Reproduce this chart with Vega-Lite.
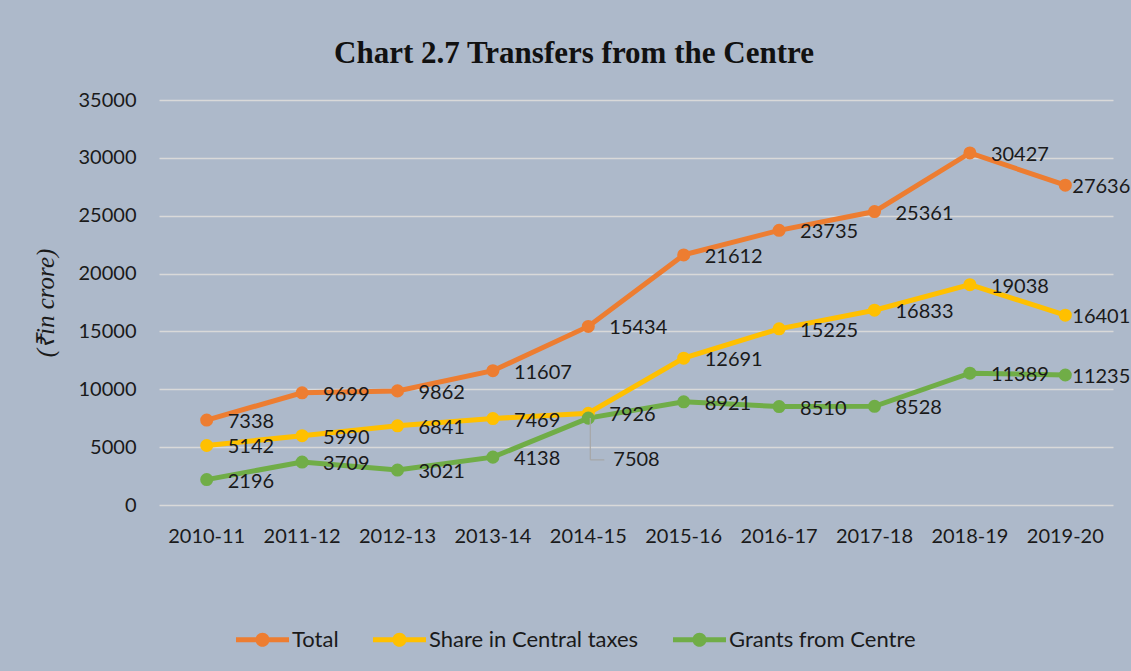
{
  "$schema": "https://vega.github.io/schema/vega-lite/v6.json",
  "width": 954,
  "height": 405,
  "autosize": {"type": "none"},
  "padding": {"left": 159, "top": 100, "right": 18, "bottom": 166},
  "background": "#ADB9CA",
  "title": {
    "text": "Chart 2.7 Transfers from the Centre",
    "font": "Liberation Serif",
    "fontSize": 31,
    "fontWeight": "bold",
    "color": "#111111",
    "anchor": "middle",
    "baseline": "alphabetic",
    "offset": -4,
    "dx": -62
  },
  "config": {
    "view": {"stroke": null},
    "axis": {"labelFont": "Lato", "labelFontSize": 20, "labelColor": "#1a1a1a"}
  },
  "data": {
    "values": [
      {"year": "2010-11", "series": "Total", "value": 7338},
      {"year": "2011-12", "series": "Total", "value": 9699},
      {"year": "2012-13", "series": "Total", "value": 9862},
      {"year": "2013-14", "series": "Total", "value": 11607},
      {"year": "2014-15", "series": "Total", "value": 15434},
      {"year": "2015-16", "series": "Total", "value": 21612},
      {"year": "2016-17", "series": "Total", "value": 23735},
      {"year": "2017-18", "series": "Total", "value": 25361},
      {"year": "2018-19", "series": "Total", "value": 30427},
      {"year": "2019-20", "series": "Total", "value": 27636},
      {"year": "2010-11", "series": "Share in Central taxes", "value": 5142},
      {"year": "2011-12", "series": "Share in Central taxes", "value": 5990},
      {"year": "2012-13", "series": "Share in Central taxes", "value": 6841},
      {"year": "2013-14", "series": "Share in Central taxes", "value": 7469},
      {"year": "2014-15", "series": "Share in Central taxes", "value": 7926},
      {"year": "2015-16", "series": "Share in Central taxes", "value": 12691},
      {"year": "2016-17", "series": "Share in Central taxes", "value": 15225},
      {"year": "2017-18", "series": "Share in Central taxes", "value": 16833},
      {"year": "2018-19", "series": "Share in Central taxes", "value": 19038},
      {"year": "2019-20", "series": "Share in Central taxes", "value": 16401},
      {"year": "2010-11", "series": "Grants from Centre", "value": 2196},
      {"year": "2011-12", "series": "Grants from Centre", "value": 3709},
      {"year": "2012-13", "series": "Grants from Centre", "value": 3021},
      {"year": "2013-14", "series": "Grants from Centre", "value": 4138},
      {"year": "2014-15", "series": "Grants from Centre", "value": 7508},
      {"year": "2015-16", "series": "Grants from Centre", "value": 8921},
      {"year": "2016-17", "series": "Grants from Centre", "value": 8510},
      {"year": "2017-18", "series": "Grants from Centre", "value": 8528},
      {"year": "2018-19", "series": "Grants from Centre", "value": 11389},
      {"year": "2019-20", "series": "Grants from Centre", "value": 11235}
    ]
  },
  "encoding": {
    "x": {
      "field": "year",
      "type": "ordinal",
      "scale": {"type": "band", "paddingInner": 0, "paddingOuter": 0},
      "axis": {"title": null, "labelAngle": 0, "ticks": false, "domain": false, "labelPadding": 21, "grid": false}
    },
    "y": {
      "field": "value",
      "type": "quantitative",
      "scale": {"domain": [0, 35000], "nice": false},
      "axis": {
        "values": [0, 5000, 10000, 15000, 20000, 25000, 30000, 35000],
        "format": "d",
        "title": "(₹in crore)",
        "titleFont": "Liberation Serif",
        "titleFontStyle": "italic",
        "titleFontWeight": "normal",
        "titleFontSize": 25,
        "titleColor": "#1a1a1a",
        "titlePadding": 20,
        "domain": false,
        "ticks": false,
        "labelPadding": 23,
        "grid": true,
        "gridColor": "#D9D9D9",
        "gridWidth": 1.5
      }
    }
  },
  "layer": [
    {
      "mark": {"type": "line", "strokeWidth": 5},
      "encoding": {
        "color": {
          "field": "series",
          "type": "nominal",
          "sort": ["Total", "Share in Central taxes", "Grants from Centre"],
          "scale": {"domain": ["Total", "Share in Central taxes", "Grants from Centre"], "range": ["#ED7D31", "#FFC000", "#70AD47"]},
          "legend": {
            "orient": "none",
            "direction": "horizontal",
            "legendX": 77,
            "legendY": 513,
            "title": null,
            "symbolType": "M-1,-0.095L1,-0.095L1,0.095L-1,0.095Z M0.265,0A0.265,0.265 0 1,1 -0.265,0A0.265,0.265 0 1,1 0.265,0Z",
            "symbolSize": 2809,
            "symbolStrokeWidth": 0,
            "labelFont": "Lato",
            "labelFontSize": 22,
            "labelColor": "#1a1a1a",
            "labelLimit": 0,
            "labelOffset": 3,
            "columnPadding": 34,
            "encode": {"symbols": {"update": {"fill": {"scale": "color", "field": "value"}, "opacity": {"value": 1}, "strokeWidth": {"value": 0}}}}
          }
        }
      }
    },
    {
      "mark": {"type": "point", "filled": true, "size": 170, "opacity": 1, "shape": "circle"},
      "encoding": {
        "color": {"field": "series", "type": "nominal", "legend": null}
      }
    },
    {
      "transform": [{"filter": "!(datum.series == 'Grants from Centre' && datum.year == '2014-15') && datum.year != '2019-20'"}],
      "mark": {"type": "text", "align": "left", "baseline": "middle", "dx": 21, "dy": 2, "font": "Lato", "fontSize": 20, "color": "#1a1a1a"},
      "encoding": {"text": {"field": "value", "type": "quantitative", "format": "d"}}
    },
    {
      "transform": [{"filter": "datum.year == '2019-20'"}],
      "mark": {"type": "text", "align": "left", "baseline": "middle", "dx": 7, "dy": 2, "font": "Lato", "fontSize": 20, "color": "#1a1a1a"},
      "encoding": {"text": {"field": "value", "type": "quantitative", "format": "d"}}
    },
    {
      "transform": [{"filter": "datum.series == 'Grants from Centre' && datum.year == '2014-15'"}],
      "mark": {"type": "rule", "color": "#A6A6A6", "strokeWidth": 1.2, "xOffset": 2},
      "encoding": {"y": {"field": "value", "type": "quantitative"}, "y2": {"datum": 3900}}
    },
    {
      "transform": [{"filter": "datum.series == 'Grants from Centre' && datum.year == '2014-15'"}],
      "mark": {"type": "tick", "orient": "horizontal", "color": "#A6A6A6", "thickness": 1.2, "size": 14, "xOffset": 9, "opacity": 1},
      "encoding": {"y": {"datum": 3900}}
    },
    {
      "transform": [{"filter": "datum.series == 'Grants from Centre' && datum.year == '2014-15'"}],
      "mark": {"type": "text", "align": "left", "baseline": "middle", "dx": 25, "dy": 42, "font": "Lato", "fontSize": 20, "color": "#1a1a1a"},
      "encoding": {"text": {"field": "value", "type": "quantitative", "format": "d"}}
    }
  ]
}
